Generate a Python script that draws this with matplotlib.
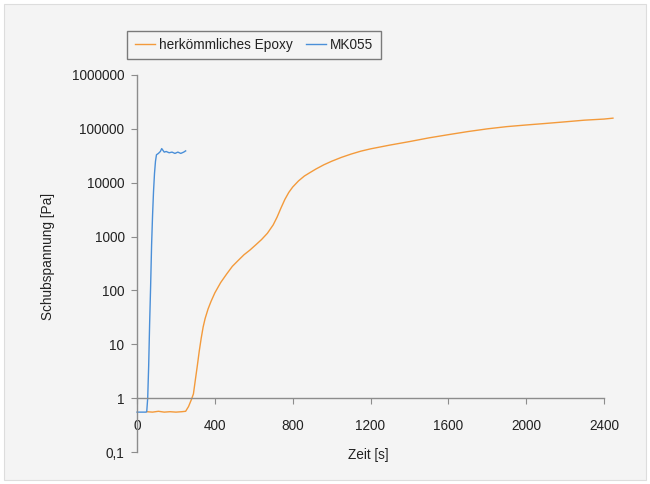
import matplotlib
matplotlib.use("Agg")
import matplotlib.pyplot as plt
from matplotlib.patches import Rectangle

# traditional epoxy: time [s], shear stress [Pa]
epoxy_t = [50, 80, 110, 140, 170, 200, 230, 250, 265, 280, 290, 300, 310, 320,
           330, 340, 350, 365, 380, 400, 430, 460, 490, 520, 550, 580, 610, 640,
           670, 700, 720, 740, 760, 780, 800, 830, 860, 890, 920, 960, 1000,
           1050, 1100, 1150, 1200, 1300, 1400, 1500, 1600, 1700, 1800, 1900,
           2000, 2100, 2200, 2300, 2400, 2446]
epoxy_v = [0.56, 0.55, 0.57, 0.55, 0.56, 0.55, 0.56, 0.57, 0.7, 0.95, 1.2, 2.2,
           4, 7.5, 13, 21, 30, 45, 62, 90, 140, 200, 280, 360, 460, 560, 700,
           880, 1150, 1650, 2300, 3400, 4900, 6600, 8300, 10800, 13300, 15500,
           18000, 21500, 25000, 29500, 34000, 38500, 42500, 50000, 58000,
           68000, 78000, 89000, 100000, 110000, 118000, 126000, 135000,
           145000, 152000, 158000]

# MK055
mk_t = [0, 45, 50, 55, 60, 65, 70, 75, 80, 85, 90, 95, 100, 110, 120, 127,
        140, 150, 165, 180, 195, 210, 225, 240, 250]
mk_v = [0.55, 0.55, 0.56, 1.0, 4, 25, 120, 700, 2500, 7000, 15000, 25000,
        33000, 35000, 38000, 43000, 37000, 38000, 36000, 37000, 35000, 37000,
        35000, 37000, 39000]

y_ticks = [0.1, 1, 10, 100, 1000, 10000, 100000, 1000000]
y_labels = ["0,1", "1", "10", "100", "1000", "10000", "100000", "1000000"]
x_ticks = [0, 400, 800, 1200, 1600, 2000, 2400]

bg = "#f4f4f4"
axis_col = "#8c8c8c"
orange = "#f39a3b"
blue = "#4a8fd8"

plt.rcParams['font.family'] = ['Liberation Sans', 'DejaVu Sans']

fig = plt.figure(figsize=(6.5, 4.84), dpi=100, facecolor="white")
fig.patches.append(Rectangle((4 / 650, 4 / 484), 642 / 650, 476 / 484,
                             transform=fig.transFigure, facecolor=bg,
                             edgecolor="#dddddd", lw=0.8, zorder=-10))
ax = fig.add_axes([137 / 650, 1 - 452 / 484, 467 / 650, 377 / 484])
ax.set_facecolor("none")

ax.plot(epoxy_t, epoxy_v, color=orange, lw=1.0, clip_on=False,
        label="herkömmliches Epoxy")
ax.plot(mk_t, mk_v, color=blue, lw=1.0, clip_on=False, label="MK055")

ax.set_yscale("log")
ax.set_ylim(0.1, 1e6)
ax.set_xlim(0, 2400)
ax.yaxis.set_major_locator(matplotlib.ticker.FixedLocator(y_ticks))
ax.yaxis.set_minor_locator(matplotlib.ticker.NullLocator())
ax.set_yticklabels(y_labels)
ax.set_xticks(x_ticks)
ax.set_xticklabels([str(t) for t in x_ticks])

for s in ["top", "right"]:
    ax.spines[s].set_visible(False)
ax.spines["bottom"].set_position(("data", 1))
for s in ["left", "bottom"]:
    ax.spines[s].set_color(axis_col)
    ax.spines[s].set_linewidth(1.0)

ax.tick_params(axis="y", direction="out", length=4, color=axis_col,
               labelsize=9.8, labelcolor="#222222", pad=5)
ax.tick_params(axis="x", direction="out", length=4, color=axis_col,
               labelsize=9.8, labelcolor="#222222", pad=11)

ax.set_xlabel("Zeit [s]", fontsize=9.8, color="#222222")
ax.xaxis.set_label_coords(0.495, 0.01)
ax.set_ylabel("Schubspannung [Pa]", fontsize=9.8, color="#222222")
ax.yaxis.set_label_coords(-0.175, 0.52)

leg = fig.legend(loc="center", bbox_to_anchor=(254 / 650, 1 - 45 / 484),
                 ncol=2, fontsize=9.8, frameon=True, fancybox=False,
                 handlelength=1.5, handletextpad=0.25, columnspacing=1.0,
                 borderpad=0.55, borderaxespad=0, framealpha=1)
leg.get_frame().set_edgecolor("#7a7a7a")
leg.get_frame().set_facecolor(bg)
leg.get_frame().set_linewidth(1.0)
for t in leg.get_texts():
    t.set_color("#222222")

fig.savefig("out.png", dpi=100, facecolor="white")
